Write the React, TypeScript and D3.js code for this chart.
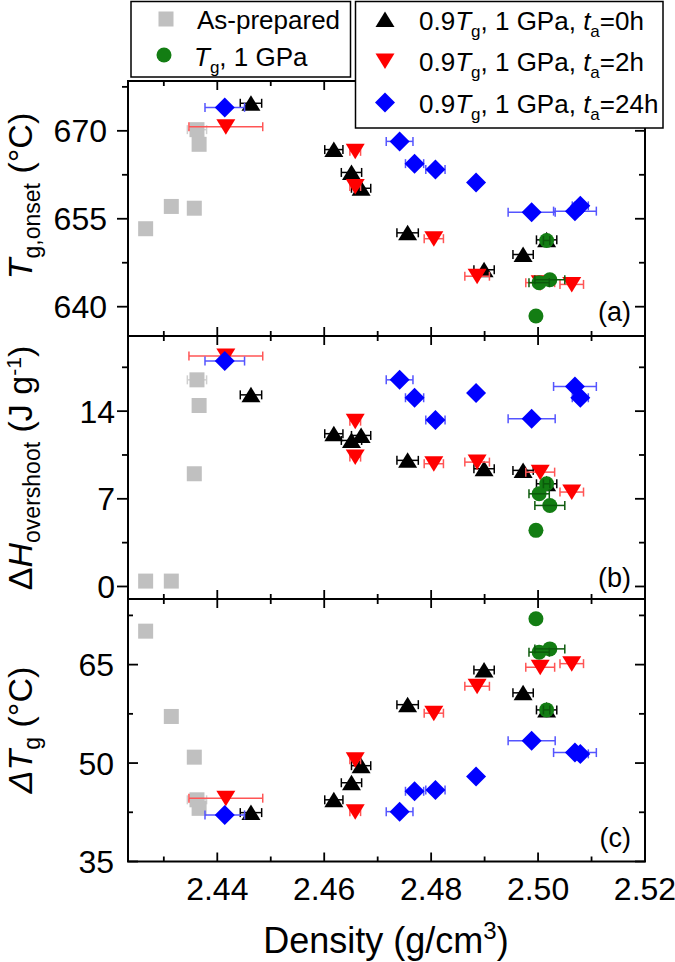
import React from 'react';
import * as d3 from 'd3';

const W = 675;
const H = 962;

// ---------- data ----------
// As-prepared
const densAsPrep = [2.4266, 2.4314, 2.4357, 2.4362, 2.4366];
const errAsPrep = [0, 0, 0, 0.0018, 0];
const tgAsPrep = [653.3, 657.1, 656.8, 670.2, 667.7];
const dhAsPrep = [0.43, 0.43, 9.0, 16.5, 14.45];
const dtAsPrep = [70.1, 57.1, 50.9, 44.4, 43.1];

// 0.9Tg, 1 GPa, ta=0h
const dens0 = [2.4463, 2.4618, 2.4651, 2.4669, 2.4756, 2.4899, 2.4972, 2.5016];
const err0 = [0.002, 0.0017, 0.0019, 0.0018, 0.002, 0.0019, 0.0019, 0.0019];
const tg0 = [674.7, 666.8, 662.9, 660.2, 652.6, 646.3, 648.9, 651.4];
const dh0 = [15.3, 12.2, 11.66, 12.06, 10.07, 9.4, 9.27, 8.2];
const dt0 = [42.45, 44.4, 47.0, 49.6, 58.9, 64.2, 60.7, 58.1];

// 0.9Tg, 1 GPa, ta=2h
const dens2 = [2.4416, 2.4658, 2.4658, 2.4805, 2.4886, 2.5004, 2.5063];
const err2 = [0.0069, 0.001, 0.001, 0.0018, 0.0023, 0.0027, 0.0022];
const tg2 = [670.7, 666.5, 660.5, 651.6, 645.2, 644.1, 643.8];
const dh2 = [18.4, 13.2, 10.33, 9.8, 9.93, 9.13, 7.54];
const dt2 = [44.65, 42.6, 50.5, 57.6, 61.7, 64.6, 65.15];

// 0.9Tg, 1 GPa, ta=24h
const dens24 = [2.4414, 2.4741, 2.4769, 2.4808, 2.4884, 2.4988, 2.5069, 2.5079];
const err24 = [0.0037, 0.0025, 0.0017, 0.0018, 0, 0.0044, 0.004, 0.0015];
const tg24 = [674.0, 668.2, 664.4, 663.4, 661.2, 656.1, 656.3, 657.2];
const dh24 = [18.0, 16.5, 15.07, 13.3, 15.44, 13.4, 15.97, 15.07];
const dt24 = [42.1, 42.6, 45.7, 45.9, 47.95, 53.4, 51.6, 51.4];

// Tg, 1 GPa
const densTg = [2.4996, 2.5002, 2.5016, 2.5022];
const errTg = [0, 0.0019, 0.0006, 0.0028];
const tgTg = [638.4, 644.1, 651.3, 644.6];
const dhTg = [4.48, 7.4, 8.2, 6.47];
const dtTg = [72.0, 66.9, 58.1, 67.4];

// ticks
const xMajor = [2.44, 2.46, 2.48, 2.5, 2.52];
const xMinor = [2.43, 2.45, 2.47, 2.49, 2.51];
const xLabels = ['2.44', '2.46', '2.48', '2.50', '2.52'];
const aMajor = [640, 655, 670];
const aMinor = [647.5, 662.5, 677.5];
const bMajor = [0, 7, 14];
const bMinor = [3.5, 10.5, 17.5];
const cMajor = [35, 50, 65];
const cMinor = [42.5, 57.5, 72.5];

const FONT = 'Liberation Sans, Arial, Helvetica, sans-serif';

type Shape = 'square' | 'circle' | 'up' | 'down' | 'diamond';

function Marker({ shape, x, y, color }: { shape: Shape; x: number; y: number; color: string }) {
  if (shape === 'square') return <rect x={x - 7.5} y={y - 7.5} width={15} height={15} fill={color} />;
  if (shape === 'circle') return <circle cx={x} cy={y} r={7.5} fill={color} />;
  if (shape === 'up') return <path d={`M${x},${y - 8}L${x + 9.5},${y + 7.5}L${x - 9.5},${y + 7.5}Z`} fill={color} />;
  if (shape === 'down') return <path d={`M${x},${y + 8}L${x + 9.5},${y - 7.5}L${x - 9.5},${y - 7.5}Z`} fill={color} />;
  return <path d={`M${x},${y - 10}L${x + 10},${y}L${x},${y + 10}L${x - 10},${y}Z`} fill={color} />;
}

export default function App() {
  const x = d3.scaleLinear().domain([2.4233, 2.52]).range([128, 645]);
  const L = 128, R = 645;

  const series = [
    { dens: densAsPrep, err: errAsPrep, v: [tgAsPrep, dhAsPrep, dtAsPrep], shape: 'square' as Shape, color: '#c0c0c0', ec: '#cfcfcf', errTop: false },
    { dens: dens0, err: err0, v: [tg0, dh0, dt0], shape: 'up' as Shape, color: '#000000', ec: '#000000', errTop: false },
    { dens: dens2, err: err2, v: [tg2, dh2, dt2], shape: 'down' as Shape, color: '#ff0000', ec: '#ff5555', errTop: false },
    { dens: dens24, err: err24, v: [tg24, dh24, dt24], shape: 'diamond' as Shape, color: '#0000ff', ec: '#5555ff', errTop: false },
    { dens: densTg, err: errTg, v: [tgTg, dhTg, dtTg], shape: 'circle' as Shape, color: '#137d13', ec: '#0b5a0b', errTop: true },
  ];

  const panels = [
    { y: d3.scaleLinear().domain([635, 678.5]).range([336, 81]), major: aMajor, minor: aMinor, out: true, lx: 107, label: '(a)', lblY: 321 },
    { y: d3.scaleLinear().domain([-1, 20]).range([599, 336]), major: bMajor, minor: bMinor, out: true, lx: 115, label: '(b)', lblY: 587 },
    { y: d3.scaleLinear().domain([35, 75]).range([861.5, 599]), major: cMajor, minor: cMinor, out: false, lx: 114, label: '(c)', lblY: 847 },
  ];

  const errBar = (px: number, py: number, e: number, col: string, k: string) => {
    if (!e) return null;
    const x0 = x(px - e), x1 = x(px + e);
    return (
      <g key={k} stroke={col} strokeWidth={1.5}>
        <line x1={x0} x2={x1} y1={py} y2={py} />
        <line x1={x0} x2={x0} y1={py - 4.5} y2={py + 4.5} />
        <line x1={x1} x2={x1} y1={py - 4.5} y2={py + 4.5} />
      </g>
    );
  };

  return (
    <svg width={W} height={H} style={{ position: 'absolute', left: 0, top: 0, background: '#fff' }} fontFamily={FONT}>
      <rect x={0} y={0} width={W} height={H} fill="#fff" />
      {panels.map((p, pi) => {
        const y0 = p.y.range()[1];
        const y1 = p.y.range()[0];
        return (
          <g key={pi}>
            {series.map((s, si) => (
              <g key={si}>
                {!s.errTop && s.dens.map((d, i) => errBar(d, p.y(s.v[pi][i]), s.err[i], s.ec, 'e' + i))}
                {s.dens.map((d, i) => (
                  <Marker key={i} shape={s.shape} x={x(d)} y={p.y(s.v[pi][i])} color={s.color} />
                ))}
                {s.errTop && s.dens.map((d, i) => errBar(d, p.y(s.v[pi][i]), s.err[i], s.ec, 't' + i))}
              </g>
            ))}
            <rect x={L} y={y0} width={R - L} height={y1 - y0} fill="none" stroke="#000" strokeWidth={2} />
            {xMajor.map((t, i) => (
              <g key={'xm' + i} stroke="#000" strokeWidth={1.8}>
                <line x1={x(t)} x2={x(t)} y1={y0} y2={y0 + 9} />
                <line x1={x(t)} x2={x(t)} y1={y1} y2={y1 - 9} />
              </g>
            ))}
            {xMinor.map((t, i) => (
              <g key={'xn' + i} stroke="#000" strokeWidth={1.8}>
                <line x1={x(t)} x2={x(t)} y1={y0} y2={y0 + 5} />
                <line x1={x(t)} x2={x(t)} y1={y1} y2={y1 - 5} />
              </g>
            ))}
            {p.major.map((t, i) => (
              <g key={'ym' + i} stroke="#000" strokeWidth={1.8}>
                <line x1={L} x2={p.out ? L - 11 : L + 10} y1={p.y(t)} y2={p.y(t)} />
                <line x1={R} x2={R - 10} y1={p.y(t)} y2={p.y(t)} />
              </g>
            ))}
            {p.minor.map((t, i) => (
              <g key={'yn' + i} stroke="#000" strokeWidth={1.8}>
                <line x1={L} x2={p.out ? L - 6 : L + 5} y1={p.y(t)} y2={p.y(t)} />
                <line x1={R} x2={R - 6} y1={p.y(t)} y2={p.y(t)} />
              </g>
            ))}
            {p.major.map((t, i) => (
              <text key={'yl' + i} x={p.lx} y={p.y(t)} dy="0.36em" textAnchor="end" fontSize={32} fill="#000">
                {t}
              </text>
            ))}
            <text x={631} y={p.lblY} textAnchor="end" fontSize={27} fill="#000">{p.label}</text>
          </g>
        );
      })}

      {xMajor.map((t, i) => (
        <text key={'xl' + i} x={x(t)} y={900} textAnchor="middle" fontSize={32} fill="#000">{xLabels[i]}</text>
      ))}
      <text x={386} y={953} textAnchor="middle" fontSize={36} fill="#000">
        Density (g/cm<tspan fontSize={24} dy={-14}>3</tspan><tspan dy={14}>)</tspan>
      </text>

      <text transform="rotate(-90)" x={-196} y={32} textAnchor="middle" fontSize={34} fill="#000">
        <tspan fontStyle="italic">T</tspan>
        <tspan fontSize={23} dy={8}>g,onset</tspan>
        <tspan dy={-8}>{' (°C)'}</tspan>
      </text>
      <text transform="rotate(-90)" x={-468} y={32} textAnchor="middle" fontSize={34} fill="#000">
        <tspan>Δ</tspan>
        <tspan fontStyle="italic">H</tspan>
        <tspan fontSize={23} dy={8}>overshoot</tspan>
        <tspan dy={-8}>{' (J g'}</tspan>
        <tspan fontSize={21} dy={-11}>-1</tspan>
        <tspan dy={11}>)</tspan>
      </text>
      <text transform="rotate(-90)" x={-730} y={32} textAnchor="middle" fontSize={34} fill="#000">
        <tspan fontStyle="italic">ΔT</tspan>
        <tspan fontSize={23} dy={8}>g</tspan>
        <tspan dy={-8}>{' (°C)'}</tspan>
      </text>

      <rect x={131} y={1.5} width={219.5} height={75.5} fill="#fff" stroke="#000" strokeWidth={1.5} />
      <Marker shape="square" x={166} y={19} color="#c0c0c0" />
      <text x={197} y={28.5} fontSize={26} fill="#000">As-prepared</text>
      <Marker shape="circle" x={164} y={55} color="#137d13" />
      <text x={194} y={66} fontSize={26} fill="#000">
        <tspan fontStyle="italic">T</tspan>
        <tspan fontSize={17} dy={7}>g</tspan>
        <tspan dy={-7}>{', 1 GPa'}</tspan>
      </text>

      <rect x={355.5} y={1.5} width={307.5} height={126.5} fill="#fff" stroke="#000" strokeWidth={1.5} />
      {[
        { shape: 'up' as Shape, color: '#000000', t: '0h', by: 29.5 },
        { shape: 'down' as Shape, color: '#ff0000', t: '2h', by: 71 },
        { shape: 'diamond' as Shape, color: '#0000ff', t: '24h', by: 112.5 },
      ].map((r, i) => (
        <g key={i}>
          <Marker shape={r.shape} x={385} y={r.by - 10} color={r.color} />
          <text x={419} y={r.by} fontSize={26} fill="#000">
            0.9<tspan fontStyle="italic">T</tspan>
            <tspan fontSize={17} dy={7}>g</tspan>
            <tspan dy={-7}>{', 1 GPa, '}</tspan>
            <tspan fontStyle="italic">t</tspan>
            <tspan fontSize={17} dy={7}>a</tspan>
            <tspan dy={-7}>{'=' + r.t}</tspan>
          </text>
        </g>
      ))}
    </svg>
  );
}
